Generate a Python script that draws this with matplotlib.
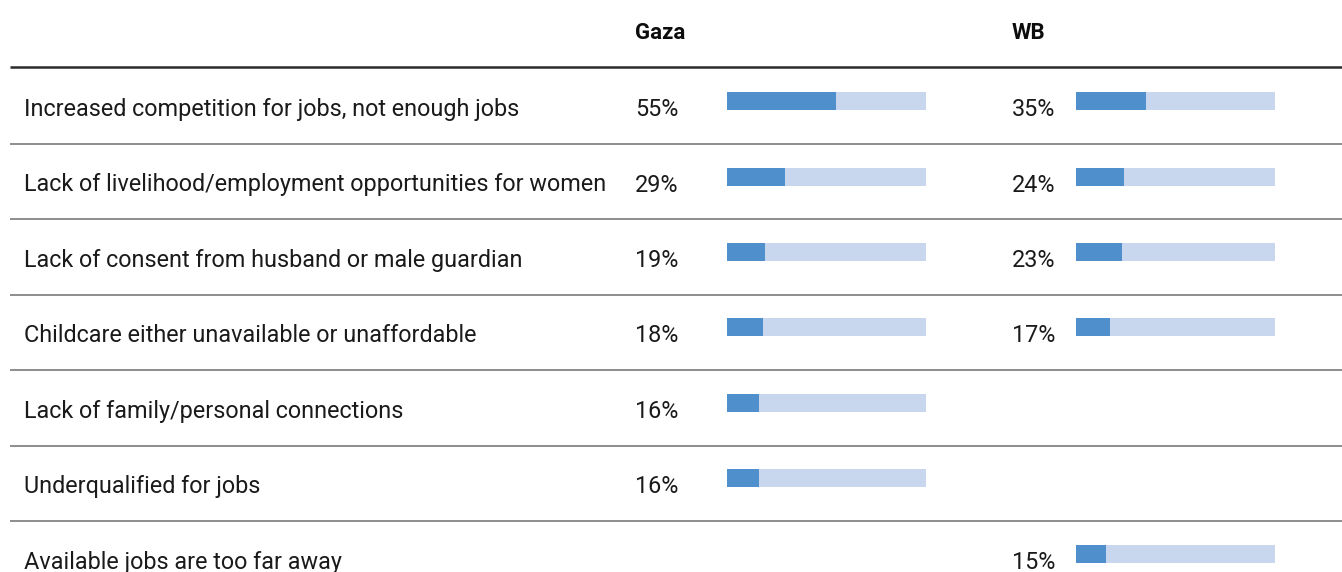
import matplotlib
matplotlib.use('Agg')
import matplotlib.pyplot as plt

# ============================================================
# Data
# ============================================================

categories = [
    'Increased competition for jobs, not enough jobs',
    'Lack of livelihood/employment opportunities for women',
    'Lack of consent from husband or male guardian',
    'Childcare either unavailable or unaffordable',
    'Lack of family/personal connections',
    'Underqualified for jobs',
    'Available jobs are too far away',
]
gaza = [55, 29, 19, 18, 16, 16, None]
wb = [35, 24, 23, 17, None, None, 15]
columns = ['Gaza', 'WB']

# ============================================================
# Layout (pixel units on x, row units on y)
# ============================================================

W, H = 1342, 572
ROW_PX = 75.5
ROW0_PX = 106.0          # centre of first row, in pixels from top
BAR_MAX = 199            # pixel width of a 100% bar
COL_TEXT_X = [635, 1012]
COL_BAR_X = [727, 1076]
DARK = '#4F8FCC'
LIGHT = '#C8D6EE'

plt.rcParams['font.family'] = ['Roboto', 'DejaVu Sans']


def py(p):
    # pixel row -> data y
    return (p - ROW0_PX) / ROW_PX


fig = plt.figure(figsize=(W / 100, H / 100), dpi=100)
ax = fig.add_axes([0, 0, 1, 1])
ax.set_xlim(0, W)
ax.set_ylim(py(H), py(0))
ax.axis('off')

# header
for name, x in zip(columns, COL_TEXT_X):
    ax.text(x, py(39), name, fontsize=16, fontweight='bold',
            color='#0d0d0d', va='baseline', ha='left')
ax.plot([10, W], [py(67), py(67)], color='#2b2b2b', lw=1.8,
        solid_capstyle='butt')

# row separators
for i in range(len(categories) - 1):
    y = i + 0.5
    ax.plot([10, W], [y, y], color='#7a7a7a', lw=1.2,
            solid_capstyle='butt')

text_off = 10 / ROW_PX
bar_off = -5 / ROW_PX
bar_h = 18 / ROW_PX

for i, cat in enumerate(categories):
    ax.text(24, i + text_off, cat, fontsize=16.8, fontweight='normal',
            color='#1a1a1a', va='baseline', ha='left')
    for vals, tx, bx in zip([gaza, wb], COL_TEXT_X, COL_BAR_X):
        v = vals[i]
        if v is None:
            continue
        ax.text(tx, i + text_off, f'{v}%', fontsize=16.8, fontweight='normal',
                color='#1a1a1a', va='baseline', ha='left')
        ax.barh(i + bar_off, BAR_MAX, left=bx, height=bar_h,
                color=LIGHT, edgecolor='none')
        ax.barh(i + bar_off, v / 100 * BAR_MAX, left=bx, height=bar_h,
                color=DARK, edgecolor='none')

fig.savefig('out.png', dpi=100)
